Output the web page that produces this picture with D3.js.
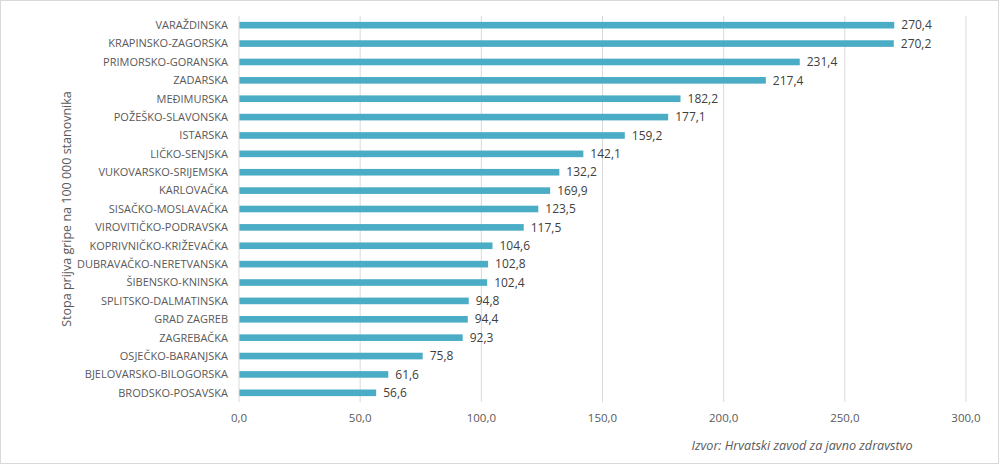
<!DOCTYPE html>
<html>
<head>
<meta charset="utf-8">
<script src="https://cdn.jsdelivr.net/npm/d3@7"></script>
<style>
  body { margin: 0; background: #fff; }
  svg text { font-family: "Open Sans", "Noto Sans", sans-serif; }
</style>
</head>
<body>
<script>
// counties, top to bottom
const counties = [
  'VARAŽDINSKA', 'KRAPINSKO-ZAGORSKA', 'PRIMORSKO-GORANSKA', 'ZADARSKA', 'MEĐIMURSKA',
  'POŽEŠKO-SLAVONSKA', 'ISTARSKA', 'LIČKO-SENJSKA', 'VUKOVARSKO-SRIJEMSKA', 'KARLOVAČKA',
  'SISAČKO-MOSLAVAČKA', 'VIROVITIČKO-PODRAVSKA', 'KOPRIVNIČKO-KRIŽEVAČKA', 'DUBRAVAČKO-NERETVANSKA',
  'ŠIBENSKO-KNINSKA', 'SPLITSKO-DALMATINSKA', 'GRAD ZAGREB', 'ZAGREBAČKA', 'OSJEČKO-BARANJSKA',
  'BJELOVARSKO-BILOGORSKA', 'BRODSKO-POSAVSKA'
];
// bar lengths as drawn
const rates = [270.4, 270.2, 231.4, 217.4, 182.2, 177.1, 159.2, 142.1, 132.2, 128.4,
  123.5, 117.5, 104.6, 102.8, 102.4, 94.8, 94.4, 92.3, 75.8, 61.6, 56.6];
// data labels as printed on the chart
const rateLabels = ['270,4', '270,2', '231,4', '217,4', '182,2', '177,1', '159,2', '142,1', '132,2', '169,9',
  '123,5', '117,5', '104,6', '102,8', '102,4', '94,8', '94,4', '92,3', '75,8', '61,6', '56,6'];
const xTicks = [0, 50, 100, 150, 200, 250, 300];

const W = 999, H = 464;
const margin = { left: 239, right: 33, top: 16, bottom: 62 };

const svg = d3.select('body').append('svg')
  .attr('width', W).attr('height', H);

// outer frame
svg.append('rect')
  .attr('x', 0.5).attr('y', 0.5)
  .attr('width', W - 1).attr('height', H - 1)
  .attr('fill', '#fff').attr('stroke', '#d9d9d9');

const x = d3.scaleLinear().domain([0, 300]).range([margin.left, W - margin.right]);
const y = d3.scaleBand().domain(counties).range([margin.top, H - margin.bottom]).paddingInner(0.64).paddingOuter(0.32);

const fmt = v => d3.format('.1f')(v).replace('.', ',');

// vertical gridlines
svg.append('g').selectAll('line')
  .data(xTicks.slice(1))
  .join('line')
  .attr('x1', d => x(d)).attr('x2', d => x(d))
  .attr('y1', margin.top).attr('y2', H - margin.bottom)
  .attr('stroke', '#d9d9d9').attr('stroke-width', 1);

// tick labels
svg.append('g').selectAll('text')
  .data(xTicks)
  .join('text')
  .attr('x', d => x(d)).attr('y', 422)
  .attr('text-anchor', 'middle')
  .attr('font-size', 11.5)
  .attr('fill', '#595959')
  .text(fmt);

// bars
svg.append('g').selectAll('rect')
  .data(rates)
  .join('rect')
  .attr('x', x(0))
  .attr('y', (d, i) => y(counties[i]))
  .attr('width', d => x(d) - x(0))
  .attr('height', y.bandwidth())
  .attr('fill', '#4bacc6');

// category axis line
svg.append('line')
  .attr('x1', x(0)).attr('x2', x(0))
  .attr('y1', margin.top).attr('y2', H - margin.bottom)
  .attr('stroke', '#d9d9d9');

// category labels
svg.append('g').selectAll('text')
  .data(counties)
  .join('text')
  .attr('x', x(0) - 11)
  .attr('y', d => y(d) + y.bandwidth() / 2)
  .attr('dy', '0.35em')
  .attr('text-anchor', 'end')
  .attr('font-size', 11)
  .attr('fill', '#595959')
  .text(d => d);

// value labels
svg.append('g').selectAll('text')
  .data(rates)
  .join('text')
  .attr('x', d => x(d) + 7)
  .attr('y', (d, i) => y(counties[i]) + y.bandwidth() / 2)
  .attr('dy', '0.35em')
  .attr('font-size', 12)
  .attr('fill', '#404040')
  .text((d, i) => rateLabels[i]);

// axis title
svg.append('text')
  .attr('transform', 'translate(67,' + ((margin.top + H - margin.bottom) / 2) + ') rotate(-90)')
  .attr('text-anchor', 'middle')
  .attr('dy', '0.35em')
  .attr('font-size', 12.5)
  .attr('fill', '#595959')
  .text('Stopa prijva gripe na 100 000 stanovnika');

// source note
svg.append('text')
  .attr('x', 802).attr('y', 450)
  .attr('text-anchor', 'middle')
  .attr('font-size', 12.6)
  .attr('font-style', 'italic')
  .attr('fill', '#595959')
  .text('Izvor: Hrvatski zavod za javno zdravstvo');
</script>
</body>
</html>
